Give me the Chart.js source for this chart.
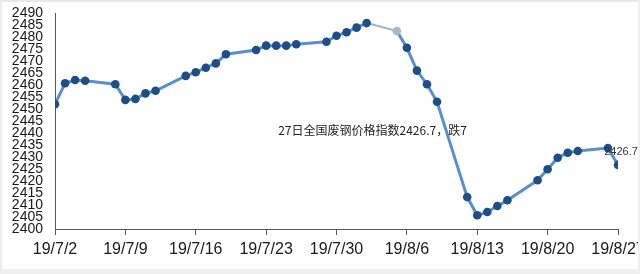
<!DOCTYPE html>
<html>
<head>
<meta charset="utf-8">
<script src="https://cdn.jsdelivr.net/npm/chart.js@4"></script>
<style>
  html, body { margin: 0; padding: 0; background: #ffffff; }
  #wrap { position: relative; width: 640px; height: 274px; overflow: hidden; }
  #c { position: absolute; left: 0; top: 0; }
  #frame { position: absolute; left: 0; top: 0; width: 640px; height: 274px; box-sizing: border-box;
           border-top: 2px solid #e8e8e8; border-bottom: 5px solid #efefef;
           border-left: 2px solid #ececec; border-right: 2px solid #f0f0f0; pointer-events: none; }
</style>
</head>
<body>
<div id="wrap">
  <canvas id="c" width="640" height="274"></canvas>
  <div id="frame"></div>
</div>
<script>
// ---- data ----
const dates = [
  "2019-07-02","2019-07-03","2019-07-04","2019-07-05","2019-07-08","2019-07-09","2019-07-10",
  "2019-07-11","2019-07-12","2019-07-15","2019-07-16","2019-07-17","2019-07-18","2019-07-19",
  "2019-07-22","2019-07-23","2019-07-24","2019-07-25","2019-07-26","2019-07-29","2019-07-30",
  "2019-07-31","2019-08-01","2019-08-02","2019-08-05","2019-08-06","2019-08-07","2019-08-08",
  "2019-08-09","2019-08-12","2019-08-13","2019-08-14","2019-08-15","2019-08-16","2019-08-19",
  "2019-08-20","2019-08-21","2019-08-22","2019-08-23","2019-08-26","2019-08-27"
];
const indexValues = [
  2452.0, 2460.7, 2462.1, 2461.8, 2460.3, 2453.8, 2454.2,
  2456.5, 2457.6, 2463.8, 2465.3, 2467.2, 2469.0, 2472.8,
  2474.6, 2476.4, 2476.4, 2476.4, 2477.0, 2478.0, 2480.5,
  2482.0, 2483.9, 2485.8, 2482.5, 2475.5, 2466.0, 2460.3,
  2453.0, 2413.3, 2405.7, 2407.1, 2409.6, 2412.0, 2420.3,
  2424.9, 2429.7, 2431.8, 2432.5, 2433.7, 2426.7
];
const xTickLabels = ["19/7/2","19/7/9","19/7/16","19/7/23","19/7/30","19/8/6","19/8/13","19/8/20","19/8/27"];
const yMin = 2400, yMax = 2490, yStep = 5;
const annotationText = "27日全国废钢价格指数2426.7，跌7";
const annotationAnchor = { day: 22.2, value: 2441.2 };
const lastLabel = "2426.7";
const fadedDate = "2019-08-05";

// ---- derived ----
const DAY = 86400000;
const t0 = Date.parse(dates[0]);
const dayOffsets = dates.map(d => Math.round((Date.parse(d) - t0) / DAY));
const points = dayOffsets.map((x, i) => ({ x: x, y: indexValues[i] }));
const fadedIndex = dates.indexOf(fadedDate);

const textPlugin = {
  id: 'texts',
  afterDatasetsDraw(chart) {
    const ctx = chart.ctx;
    const xs = chart.scales.x, ys = chart.scales.y;
    ctx.save();
    ctx.fillStyle = '#222222';
    ctx.font = '12px "Noto Sans CJK SC", "Liberation Sans", sans-serif';
    ctx.textAlign = 'left';
    ctx.textBaseline = 'middle';
    ctx.fillText(annotationText, xs.getPixelForValue(annotationAnchor.day), ys.getPixelForValue(annotationAnchor.value));
    const last = chart.getDatasetMeta(0).data[points.length - 1];
    ctx.font = '11px "Liberation Sans", sans-serif';
    ctx.textAlign = 'center';
    ctx.fillStyle = '#333333';
    ctx.fillText(lastLabel, last.x + 3, last.y - 13);
    ctx.restore();
  }
};

new Chart(document.getElementById('c'), {
  type: 'line',
  data: {
    datasets: [{
      data: points,
      borderColor: ctx => '#5b8fc9',
      borderWidth: 3,
      segment: {
        borderColor: c => (c.p1DataIndex === fadedIndex ? '#9ab6d8' : '#5b8fc9'),
        borderWidth: c => (c.p1DataIndex === fadedIndex ? 2 : 3)
      },
      pointRadius: 4.3,
      pointBorderWidth: 0,
      pointBackgroundColor: c => (c.dataIndex === fadedIndex ? '#a7b9cf' : '#1f4e84'),
      pointHoverRadius: 4.3,
      tension: 0,
      fill: false
    }]
  },
  options: {
    responsive: false,
    animation: false,
    events: [],
    layout: { padding: { left: 0, right: 22, top: 13, bottom: 0 } },
    plugins: { legend: { display: false }, tooltip: { enabled: false } },
    scales: {
      x: {
        type: 'linear',
        min: 0,
        max: 56,
        afterBuildTicks: s => { s.ticks = xTickLabels.map((_, i) => ({ value: i * 7 })); },
        ticks: {
          autoSkip: false,
          maxRotation: 0,
          padding: 5,
          color: '#1a1a1a',
          font: { family: '"Liberation Sans", sans-serif', size: 16 },
          callback: v => xTickLabels[Math.round(v / 7)]
        },
        grid: { display: true, drawOnChartArea: false, drawTicks: true, tickLength: 6, color: '#595959', lineWidth: 1 },
        border: { display: true, color: '#595959', width: 1 },
        afterFit: s => { s.height = 45; s.paddingLeft = 0; s.paddingRight = 0; }
      },
      y: {
        min: yMin,
        max: yMax,
        afterBuildTicks: s => {
          const t = [];
          for (let v = yMin; v <= yMax; v += yStep) t.push({ value: v });
          s.ticks = t;
        },
        ticks: {
          autoSkip: false,
          padding: 12,
          color: '#1a1a1a',
          font: { family: '"Liberation Sans", sans-serif', size: 14, lineHeight: 1 },
          callback: v => String(v)
        },
        grid: { display: false, drawTicks: false },
        border: { display: true, color: '#595959', width: 1 },
        afterFit: s => { s.width = 55; s.paddingTop = 0; s.paddingBottom = 0; }
      }
    }
  },
  plugins: [textPlugin]
});
</script>
</body>
</html>
